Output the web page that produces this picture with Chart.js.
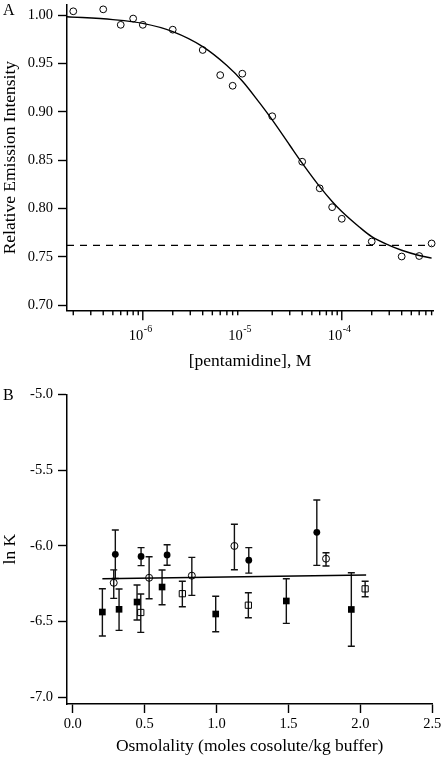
<!DOCTYPE html>
<html>
<head>
<meta charset="utf-8">
<script src="https://cdn.jsdelivr.net/npm/chart.js@4/dist/chart.umd.min.js"></script>
<style>
  html, body { margin: 0; padding: 0; background: #fff; }
  body { width: 442px; height: 757px; position: relative; overflow: hidden; font-family: "Liberation Serif", serif; }
  canvas { position: absolute; left: 0; }
  #cA { top: 0; }
  #cB { top: 380px; }
  .plabel { position: absolute; font-size: 16px; line-height: 16px; color: #000; }
</style>
</head>
<body>
<canvas id="cA" width="442" height="375"></canvas>
<canvas id="cB" width="442" height="377"></canvas>
<div class="plabel" style="left:3px; top:1.5px;">A</div>
<div class="plabel" style="left:3px; top:387px;">B</div>
<script>
// ---------- Panel A data ----------
const concA = [2e-7, 4e-7, 6e-7, 8e-7, 1e-6, 2e-6, 4e-6, 6e-6, 8e-6, 1e-5, 2e-5, 4e-5, 6e-5, 8e-5, 1e-4, 2e-4, 4e-4, 6e-4, 8e-4];
const intensityA = [1.004, 1.006, 0.990, 0.9965, 0.990, 0.985, 0.964, 0.938, 0.927, 0.9395, 0.8955, 0.8485, 0.821, 0.8015, 0.7895, 0.766, 0.7505, 0.751, 0.764];
const fitConcA = [1.73e-7, 5e-7, 1e-6, 2e-6, 4e-6, 7e-6, 1e-5, 1.5e-5, 2e-5, 3e-5, 4e-5, 6e-5, 8e-5, 1e-4, 1.5e-4, 2e-4, 3e-4, 4e-4, 6e-4, 8e-4];
const fitIntA = [0.9984, 0.9954, 0.9915, 0.983, 0.9675, 0.948, 0.932, 0.909, 0.8917, 0.8655, 0.847, 0.8227, 0.8074, 0.797, 0.781, 0.771, 0.762, 0.757, 0.7516, 0.7488];
const dashConcA = [1.73e-7, 8e-4];
const dashIntA = [0.762, 0.762];
const yTicksA = [0.70, 0.75, 0.80, 0.85, 0.90, 0.95, 1.00];
const xMajorTicksA = [1e-6, 1e-5, 1e-4];
const xMajorBaseA = ['10', '10', '10'];
const xMajorExpA = ['-6', '-5', '-4'];
const xMinorMultA = [2, 3, 4, 5, 6, 7, 8, 9];
const xDecadesA = [1e-7, 1e-6, 1e-5, 1e-4];

// ---------- Panel B data ----------
const fcX  = [0.296, 0.475, 0.656, 1.224, 1.697];
const fcY  = [-6.056, -6.070, -6.060, -6.095, -5.911];
const fcHi = [-5.896, -6.012, -5.993, -6.012, -5.698];
const fcLo = [-6.216, -6.131, -6.128, -6.180, -6.129];

const ocX  = [0.285, 0.531, 0.828, 1.124, 1.761];
const ocY  = [-6.244, -6.211, -6.197, -6.001, -6.085];
const ocHi = [-6.159, -6.072, -6.076, -5.858, -6.046];
const ocLo = [-6.347, -6.349, -6.327, -6.158, -6.133];

const fsX  = [0.206, 0.322, 0.447, 0.621, 0.994, 1.485, 1.937];
const fsY  = [-6.437, -6.419, -6.371, -6.272, -6.450, -6.364, -6.420];
const fsHi = [-6.283, -6.285, -6.259, -6.160, -6.333, -6.217, -6.178];
const fsLo = [-6.595, -6.558, -6.490, -6.389, -6.567, -6.512, -6.663];

const osX  = [0.473, 0.762, 1.221, 2.033];
const osY  = [-6.440, -6.316, -6.392, -6.284];
const osHi = [-6.318, -6.234, -6.310, -6.234];
const osLo = [-6.571, -6.402, -6.475, -6.336];

const fitXB = [0.206, 2.04];
const fitYB = [-6.217, -6.193];
const xTicksB = [0.0, 0.5, 1.0, 1.5, 2.0, 2.5];
const yTicksB = [-7.0, -6.5, -6.0, -5.5, -5.0];

// ---------- common ----------
const FONT = '"Liberation Serif", "Times New Roman", serif';
Chart.defaults.font.family = FONT;
Chart.defaults.color = '#000';
const zip = (xs, ys) => xs.map((x, i) => ({x: x, y: ys[i]}));
const tickFont = {family: FONT, size: 14.5};
const titleFont = {family: FONT, size: 17.5};

function forceSize(w, h) {
  return function (scale) {
    if (w !== null) scale.width = w;
    if (h !== null) scale.height = h;
    scale.paddingLeft = 0; scale.paddingRight = 0;
    scale.paddingTop = 0; scale.paddingBottom = 0;
  };
}

const yGrid = {display: true, drawOnChartArea: false, drawTicks: true, tickLength: 9, tickColor: '#000', tickWidth: 1.4};
const border = {display: true, color: '#000', width: 1.5};

// Panel A log tick marks + superscript labels
const logTicksPlugin = {
  id: 'logTicks',
  afterDraw(chart) {
    const sx = chart.scales.x;
    const ctx = chart.ctx;
    const y0 = chart.chartArea.bottom;
    ctx.save();
    ctx.strokeStyle = '#000';
    ctx.lineWidth = 1.4;
    sx.ticks.forEach(t => {
      const px = sx.getPixelForValue(t.value);
      const len = t.major ? 10 : 5;
      ctx.beginPath();
      ctx.moveTo(px, y0);
      ctx.lineTo(px, y0 + len);
      ctx.stroke();
    });
    ctx.fillStyle = '#000';
    xMajorTicksA.forEach((v, i) => {
      const px = sx.getPixelForValue(v);
      ctx.font = '14.5px ' + FONT;
      ctx.textAlign = 'right';
      ctx.textBaseline = 'alphabetic';
      ctx.fillText(xMajorBaseA[i], px + 0.5, 340);
      ctx.font = '10px ' + FONT;
      ctx.textAlign = 'left';
      ctx.fillText(xMajorExpA[i], px + 1, 331.5);
    });
    ctx.restore();
  }
};

new Chart(document.getElementById('cA'), {
  type: 'scatter',
  data: {
    datasets: [
      {
        type: 'line', data: zip(dashConcA, dashIntA), borderColor: '#000', borderWidth: 1.3,
        borderDash: [7, 6], pointRadius: 0, fill: false
      },
      {
        type: 'line', data: zip(fitConcA, fitIntA), borderColor: '#000', borderWidth: 1.4,
        pointRadius: 0, fill: false, cubicInterpolationMode: 'monotone'
      },
      {
        data: zip(concA, intensityA), pointStyle: 'circle', pointRadius: 3.4,
        pointBackgroundColor: 'rgba(0,0,0,0)', pointBorderColor: '#000', pointBorderWidth: 1,
        showLine: false, clip: false
      }
    ]
  },
  options: {
    responsive: false, animation: false, devicePixelRatio: 1,
    layout: {padding: {top: 1, right: 9, left: 0, bottom: 0}},
    plugins: {legend: {display: false}, tooltip: {enabled: false}},
    scales: {
      x: {
        type: 'logarithmic', min: 1.73e-7, max: 8.26e-4,
        afterBuildTicks: (scale) => {
          const t = [];
          xDecadesA.forEach(d => {
            xMinorMultA.forEach(m => { const v = m * d; if (v >= 1.9e-7 && v <= 8.1e-4) t.push({value: v, major: false}); });
            const nd = d * 10;
            if (nd <= 8.1e-4 && xMajorTicksA.indexOf(nd) >= 0) t.push({value: nd, major: true});
          });
          scale.ticks = t;
        },
        afterFit: forceSize(null, 64.7),
        grid: {display: false},
        border: border,
        ticks: {display: false},
        title: {display: true, text: '[pentamidine], M', font: titleFont, padding: {top: 0, bottom: 3.5}}
      },
      y: {
        type: 'linear', min: 0.6949, max: 1.0105,
        afterBuildTicks: (scale) => { scale.ticks = yTicksA.map(v => ({value: v})); },
        afterFit: forceSize(67, null),
        grid: yGrid,
        border: border,
        ticks: {font: tickFont, padding: 5, callback: (v) => Number(v).toFixed(2)},
        title: {display: true, text: 'Relative Emission Intensity', font: titleFont, padding: {top: 0, bottom: 0}}
      }
    }
  },
  plugins: [logTicksPlugin]
});

// Panel B error bars
const errPlugin = {
  id: 'errBars',
  beforeDatasetsDraw(chart) {
    const ctx = chart.ctx, sx = chart.scales.x, sy = chart.scales.y;
    ctx.save();
    ctx.strokeStyle = '#111';
    ctx.lineWidth = 1.4;
    chart.data.datasets.forEach(ds => {
      if (!ds.errHi) return;
      ds.data.forEach((p, i) => {
        const px = sx.getPixelForValue(p.x);
        const yh = sy.getPixelForValue(ds.errHi[i]);
        const yl = sy.getPixelForValue(ds.errLo[i]);
        ctx.beginPath();
        ctx.moveTo(px, yh); ctx.lineTo(px, yl);
        ctx.moveTo(px - 3.5, yh); ctx.lineTo(px + 3.5, yh);
        ctx.moveTo(px - 3.5, yl); ctx.lineTo(px + 3.5, yl);
        ctx.stroke();
      });
    });
    ctx.restore();
  }
};

new Chart(document.getElementById('cB'), {
  type: 'scatter',
  data: {
    datasets: [
      {
        type: 'line', data: zip(fitXB, fitYB), borderColor: '#000', borderWidth: 1.5,
        pointRadius: 0, fill: false
      },
      {
        data: zip(fsX, fsY), errHi: fsHi, errLo: fsLo, pointStyle: 'rect', pointRadius: 4.7,
        pointBackgroundColor: '#000', pointBorderColor: '#000', pointBorderWidth: 0, clip: false
      },
      {
        data: zip(osX, osY), errHi: osHi, errLo: osLo, pointStyle: 'rect', pointRadius: 4.4,
        pointBackgroundColor: 'rgba(0,0,0,0)', pointBorderColor: '#000', pointBorderWidth: 1, clip: false
      },
      {
        data: zip(fcX, fcY), errHi: fcHi, errLo: fcLo, pointStyle: 'circle', pointRadius: 3.4,
        pointBackgroundColor: '#000', pointBorderColor: '#000', pointBorderWidth: 0, clip: false
      },
      {
        data: zip(ocX, ocY), errHi: ocHi, errLo: ocLo, pointStyle: 'circle', pointRadius: 3.5,
        pointBackgroundColor: 'rgba(0,0,0,0)', pointBorderColor: '#000', pointBorderWidth: 1, clip: false
      }
    ]
  },
  options: {
    responsive: false, animation: false, devicePixelRatio: 1,
    layout: {padding: {top: 14.3, right: 9.7, left: 0, bottom: 0}},
    plugins: {legend: {display: false}, tooltip: {enabled: false}},
    scales: {
      x: {
        type: 'linear', min: -0.04, max: 2.5,
        afterBuildTicks: (scale) => { scale.ticks = xTicksB.map(v => ({value: v})); },
        afterFit: forceSize(null, 53),
        grid: {display: true, drawOnChartArea: false, drawTicks: true, tickLength: 9, tickColor: '#000', tickWidth: 1.4},
        border: border,
        ticks: {font: tickFont, padding: 2, maxRotation: 0, callback: (v) => Number(v).toFixed(1)},
        title: {display: true, text: 'Osmolality (moles cosolute/kg buffer)', font: titleFont, padding: {top: 0, bottom: 0}}
      },
      y: {
        type: 'linear', min: -7.044, max: -5.0,
        afterBuildTicks: (scale) => { scale.ticks = yTicksB.map(v => ({value: v})); },
        afterFit: forceSize(67, null),
        grid: yGrid,
        border: border,
        ticks: {font: tickFont, padding: 5, callback: (v) => Number(v).toFixed(1)},
        title: {display: true, text: 'ln K', font: titleFont, padding: {top: 0, bottom: 0}}
      }
    }
  },
  plugins: [errPlugin]
});
</script>
</body>
</html>
